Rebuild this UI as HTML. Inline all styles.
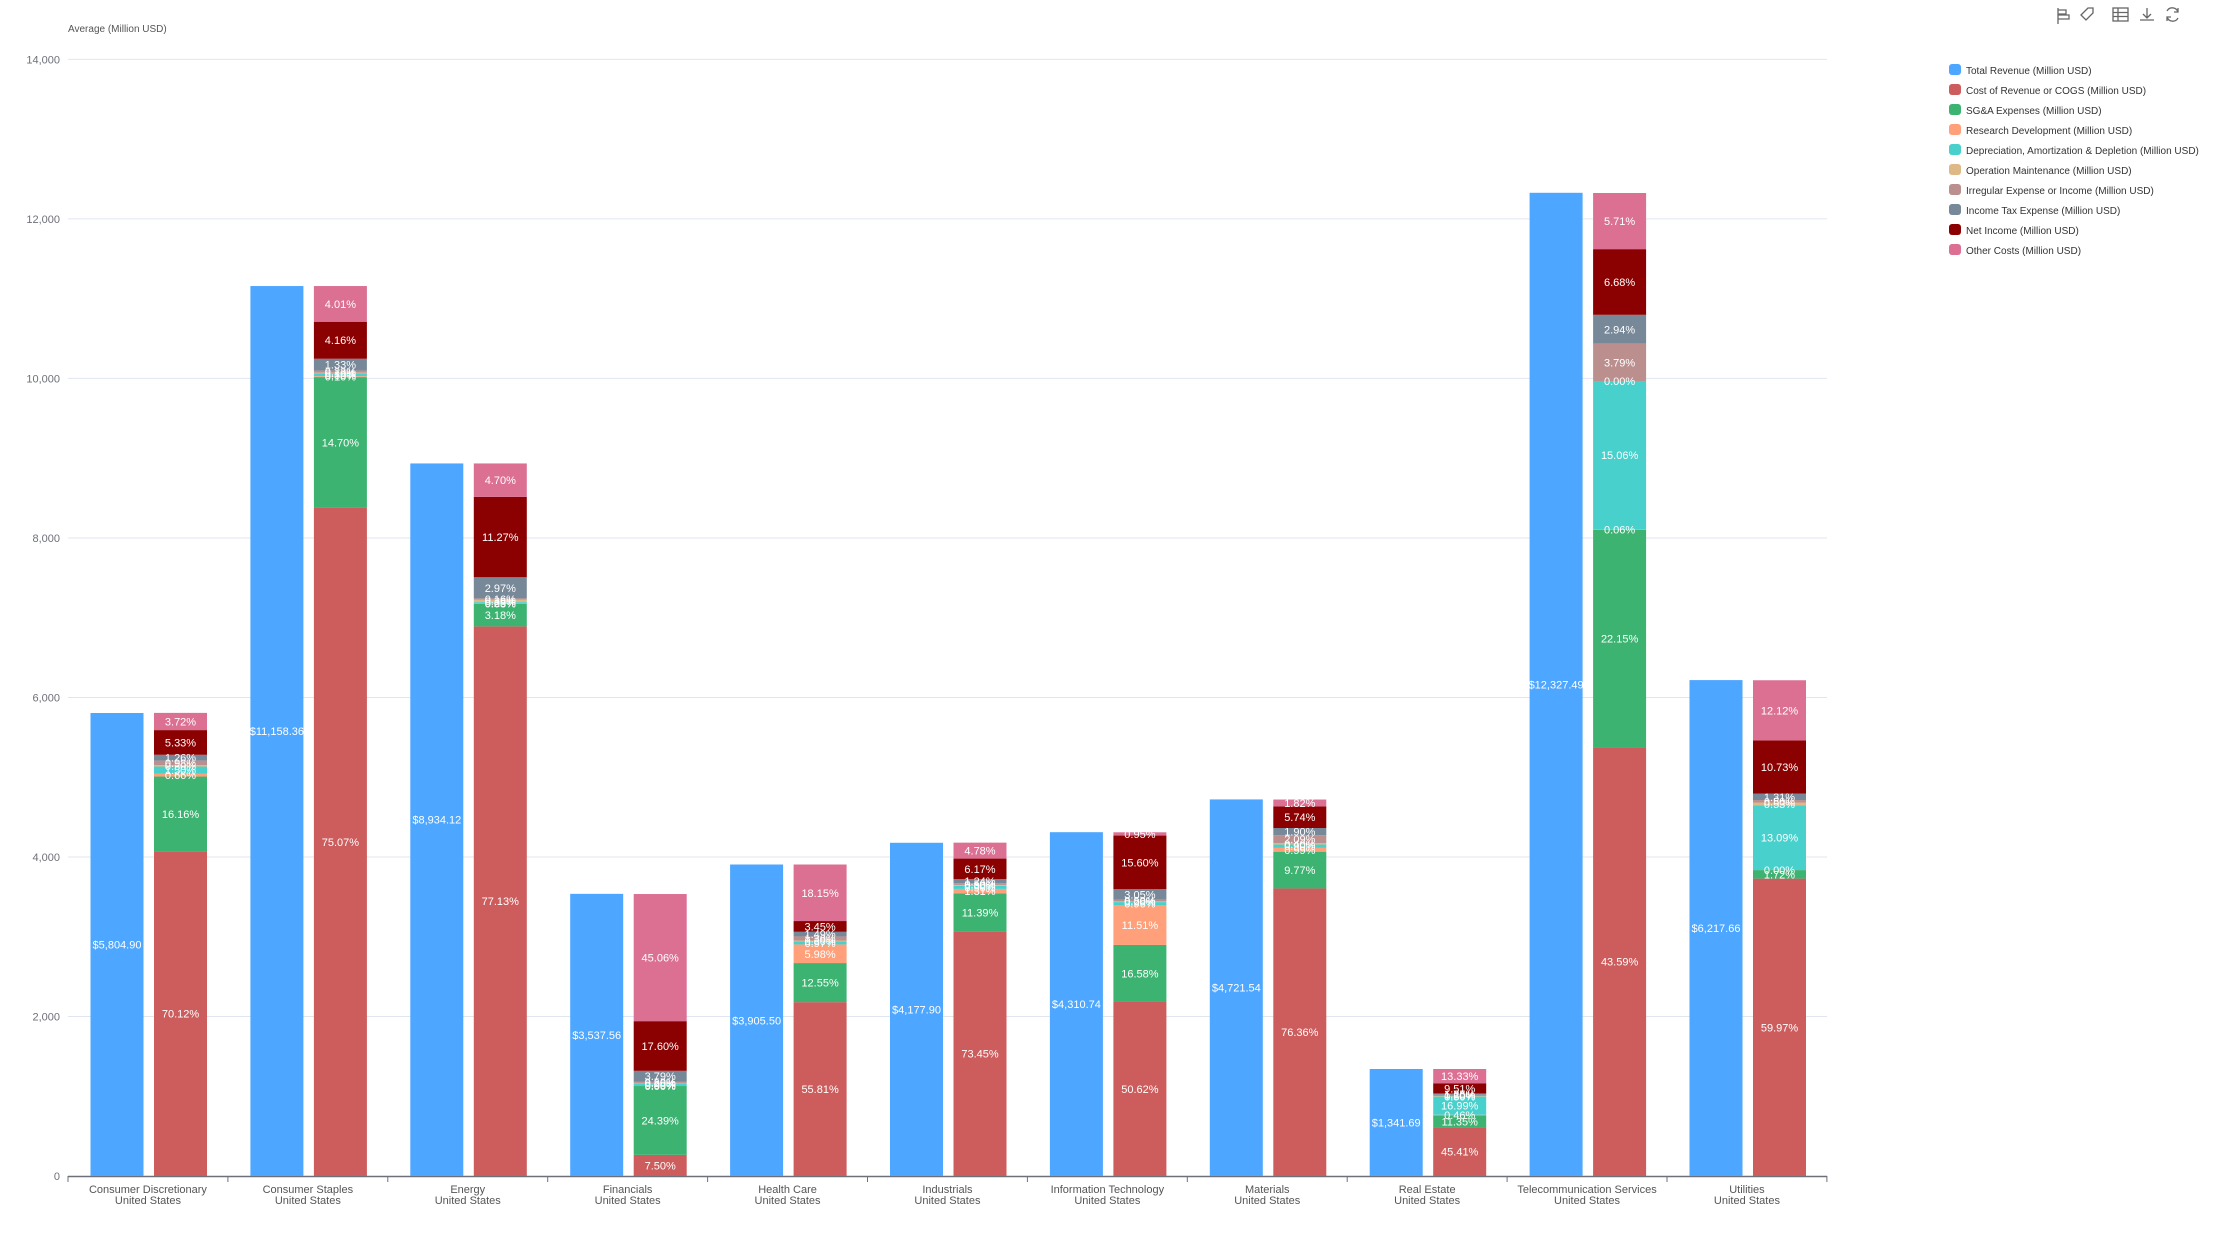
<!DOCTYPE html>
<html><head><meta charset="utf-8">
<style>
html,body{margin:0;padding:0;background:#fff;}
svg{display:block;font-family:"Liberation Sans",sans-serif;}
</style></head>
<body>
<svg id="c" width="2219" height="1245" xmlns="http://www.w3.org/2000/svg"></svg>
<script>
const svg=document.getElementById('c');
let h='';
const y0=1176, k=1116.6/14000, X0=68, CW=159.9;
const Y=v=>y0-v*k;
h+='<text x="68" y="32" font-size="10" fill="#555">Average (Million USD)</text>';
for(let i=0;i<=7;i++){const yy=Y(i*2000);
 if(i>0)h+=`<line x1="68" x2="1827" y1="${yy}" y2="${yy}" stroke="#e0e6f1" stroke-width="1"/>`;
 h+=`<text x="60" y="${yy+4}" font-size="11" fill="#6e7079" text-anchor="end">${i==0?'0':(i*2000).toLocaleString('en-US')}</text>`;}
h+=`<line x1="68" x2="1827" y1="${y0+0.5}" y2="${y0+0.5}" stroke="#6e7079" stroke-width="1.5"/>`;
for(let i=0;i<=11;i++){const x=X0+i*CW;h+=`<line x1="${x}" x2="${x}" y1="${y0}" y2="${y0+6}" stroke="#6e7079"/>`;}
const cols=['#cd5c5c','#3cb371','#ffa07a','#48d1cc','#deb887','#bc8f8f','#778899','#8b0000','#db7093'];
const cats=[
['Consumer Discretionary',5804.90,[70.12,16.16,0.66,1.5,0.3,0.98,1.26,5.33,3.72]],
['Consumer Staples',11158.36,[75.07,14.70,0.1,0.3,0.1,0.23,1.33,4.16,4.01]],
['Energy',8934.12,[77.13,3.18,0.03,0.2,0.36,0.16,2.97,11.27,4.70]],
['Financials',3537.56,[7.50,24.39,0,0.9,0.2,0.5,3.79,17.60,45.06]],
['Health Care',3905.50,[55.81,12.55,5.98,0.97,0.3,1.3,1.49,3.45,18.15]],
['Industrials',4177.90,[73.45,11.39,1.31,0.9,0.3,0.5,1.24,6.17,4.78]],
['Information Technology',4310.74,[50.62,16.58,11.51,0.96,0.2,0.5,3.05,15.60,0.95]],
['Materials',4721.54,[76.36,9.77,0.99,0.9,0.4,2.09,1.90,5.74,1.82]],
['Real Estate',1341.69,[45.41,11.35,0.46,16.99,0.5,1.2,1.25,9.51,13.33]],
['Telecommunication Services',12327.49,[43.59,22.15,0.06,15.06,0,3.79,2.94,6.68,5.71]],
['Utilities',6217.66,[59.97,1.72,0,13.09,0.53,0.5,1.31,10.73,12.12]]];
cats.forEach((c,i)=>{
 const cx=X0+i*CW, bx=cx+22.5, rx=cx+86, w=53;
 const top=Y(c[1]);
 h+=`<rect x="${bx}" y="${top}" width="${w}" height="${y0-top}" fill="#4da6ff"/>`;
 h+=`<text x="${bx+w/2}" y="${(top+y0)/2+4}" font-size="11" fill="#fff" text-anchor="middle">$${c[1].toLocaleString('en-US',{minimumFractionDigits:2})}</text>`;
 let acc=0;
 c[2].forEach((p,j)=>{
  const v0=acc, v1=acc+c[1]*p/100; acc=v1;
  const ya=Y(v1), yb=Y(v0);
  if(yb-ya>0)h+=`<rect x="${rx}" y="${ya}" width="${w}" height="${yb-ya}" fill="${cols[j]}"/>`;
 });
 acc=0;
 c[2].forEach((p,j)=>{
  const v0=acc, v1=acc+c[1]*p/100; acc=v1;
  const ym=(Y(v1)+Y(v0))/2;
  h+=`<text x="${rx+w/2}" y="${ym+4}" font-size="11" fill="#fff" text-anchor="middle">${p.toFixed(2)}%</text>`;
 });
 h+=`<text x="${cx+CW/2}" y="1193" font-size="11" fill="#555" text-anchor="middle">${c[0]}</text>`;
 h+=`<text x="${cx+CW/2}" y="1204" font-size="11" fill="#555" text-anchor="middle">United States</text>`;
});
const leg=['Total Revenue (Million USD)','Cost of Revenue or COGS (Million USD)','SG&amp;A Expenses (Million USD)','Research Development (Million USD)','Depreciation, Amortization &amp; Depletion (Million USD)','Operation Maintenance (Million USD)','Irregular Expense or Income (Million USD)','Income Tax Expense (Million USD)','Net Income (Million USD)','Other Costs (Million USD)'];
const lc=['#4da6ff'].concat(cols);
leg.forEach((t,i)=>{const yy=70+i*20;
 h+=`<rect x="1949" y="${yy-6}" width="12" height="11" rx="3" fill="${lc[i]}"/>`;
 h+=`<text x="1966" y="${yy+4}" font-size="10" fill="#333">${t}</text>`;});
const ic='fill="none" stroke="#666" stroke-width="1.3"';
h+=`<g ${ic}><path d="M2058 8v16M2058 10h8v4h-8M2058 15h11v4h-11"/>
<path d="M2086 10l-5 5 5 5 7-7v-5h-5z"/>
<rect x="2113" y="8" width="15" height="13"/><path d="M2113 12.5h15M2113 16.5h15M2118 8v13"/>
<path d="M2140 20h14M2147 8v10M2143 14l4 4 4-4"/>
<path d="M2167 11a6 6 0 0 1 11 1M2178 18a6 6 0 0 1-11-1M2178 8v4h-4M2167 21v-4h4"/></g>`;
svg.innerHTML=h;
</script>
</body></html>
